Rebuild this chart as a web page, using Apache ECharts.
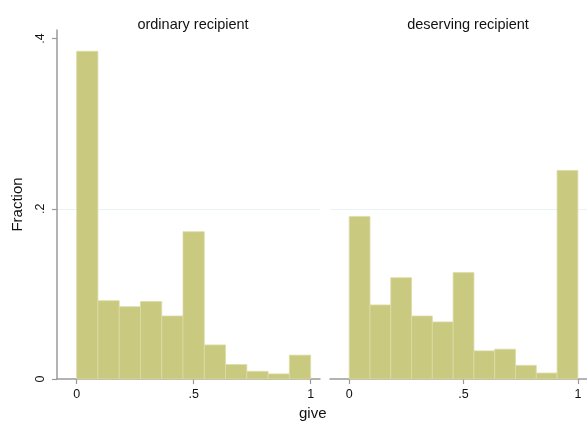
<!DOCTYPE html>
<html>
<head>
<meta charset="utf-8">
<script src="https://cdn.jsdelivr.net/npm/echarts@6/dist/echarts.min.js"></script>
<style>
html,body{margin:0;padding:0;background:#fff;}
#c{width:587px;height:422px;}
</style>
</head>
<body>
<div id="c"></div>
<script>
// Histogram bin edges (11 bins from 0 to 1)
var binEdges = [0, 0.0909, 0.1818, 0.2727, 0.3636, 0.4545, 0.5455, 0.6364, 0.7273, 0.8182, 0.9091, 1];
var panelTitles = ['ordinary recipient', 'deserving recipient'];
var ordinaryFraction = [0.385, 0.092, 0.085, 0.091, 0.074, 0.173, 0.040, 0.017, 0.009, 0.006, 0.028];
var deservingFraction = [0.191, 0.087, 0.119, 0.074, 0.067, 0.125, 0.033, 0.035, 0.016, 0.007, 0.245];
var xTicks = [0, 0.5, 1];
var yTicks = [0, 0.2, 0.4];
var xLabelText = {0: '0', 0.5: '.5', 1: '1'};
var yLabelText = {0: '0', 0.2: '.2', 0.4: '.4'};

function toBins(vals) {
  return vals.map(function (v, i) { return [binEdges[i], binEdges[i + 1], v]; });
}

var FONT = '"Liberation Sans", Arial, Helvetica, sans-serif';
var barColor = '#c9c97f';
var txt = '#111';

function renderBar(params, api) {
  var p0 = api.coord([api.value(0), api.value(2)]);
  var p1 = api.coord([api.value(1), 0]);
  return {
    type: 'rect',
    shape: { x: p0[0], y: p0[1], width: p1[0] - p0[0], height: p1[1] - p0[1] },
    style: { fill: barColor, stroke: '#dcdca6', lineWidth: 0.8 }
  };
}

function xAxisCfg(idx) {
  return {
    type: 'value', gridIndex: idx, min: -0.084, max: 1.04,
    axisLine: { show: true, onZero: false, lineStyle: { color: '#9a9a9a', width: 1.5 } },
    axisTick: { show: true, length: 5, customValues: xTicks, lineStyle: { color: '#9a9a9a', width: 1.2 } },
    axisLabel: { customValues: xTicks, margin: 9, fontSize: 12.5, color: txt, fontFamily: FONT,
      formatter: function (v) { return xLabelText[v] !== undefined ? xLabelText[v] : ''; } },
    splitLine: { show: false }
  };
}

function yAxisCfg(idx) {
  var first = idx === 0;
  return {
    type: 'value', gridIndex: idx, min: 0, max: 0.41,
    name: first ? 'Fraction' : '', nameLocation: 'middle', nameGap: 32, nameRotate: 90,
    nameTextStyle: { fontSize: 15, color: txt, fontFamily: FONT },
    axisLine: { show: first, onZero: false, lineStyle: { color: '#9a9a9a', width: 1.5 } },
    axisTick: { show: first, length: 5, customValues: yTicks, lineStyle: { color: '#9a9a9a', width: 1.2 } },
    axisLabel: { show: first, customValues: yTicks, rotate: 90, margin: 10, fontSize: 12.5, color: txt, fontFamily: FONT,
      formatter: function (v) { return yLabelText[v] !== undefined ? yLabelText[v] : ''; } },
    splitLine: { show: true, showMinLine: false, showMaxLine: false, lineStyle: { color: '#eaf3f3', width: 1 } }
  };
}

var chart = echarts.init(document.getElementById('c'), null, { renderer: 'canvas' });
chart.setOption({
  animation: false,
  backgroundColor: '#fff',
  title: [
    { text: panelTitles[0], left: 188, top: 12, textAlign: 'center',
      textStyle: { fontSize: 14.5, fontWeight: 'normal', color: txt, fontFamily: FONT } },
    { text: panelTitles[1], left: 463, top: 12, textAlign: 'center',
      textStyle: { fontSize: 14.5, fontWeight: 'normal', color: txt, fontFamily: FONT } }
  ],
  grid: [
    { left: 57, top: 30, width: 263, height: 349 },
    { left: 330, top: 30, width: 266, height: 349 }
  ],
  xAxis: [xAxisCfg(0), xAxisCfg(1)],
  yAxis: [yAxisCfg(0), yAxisCfg(1)],
  series: [
    { type: 'custom', xAxisIndex: 0, yAxisIndex: 0, renderItem: renderBar, data: toBins(ordinaryFraction), encode: { x: [0, 1], y: 2 } },
    { type: 'custom', xAxisIndex: 1, yAxisIndex: 1, renderItem: renderBar, data: toBins(deservingFraction), encode: { x: [0, 1], y: 2 } }
  ],
  graphic: [
    { type: 'text', left: 299, top: 406, style: { text: 'give', fontSize: 15, fill: txt, fontFamily: FONT } }
  ]
});
</script>
</body>
</html>
